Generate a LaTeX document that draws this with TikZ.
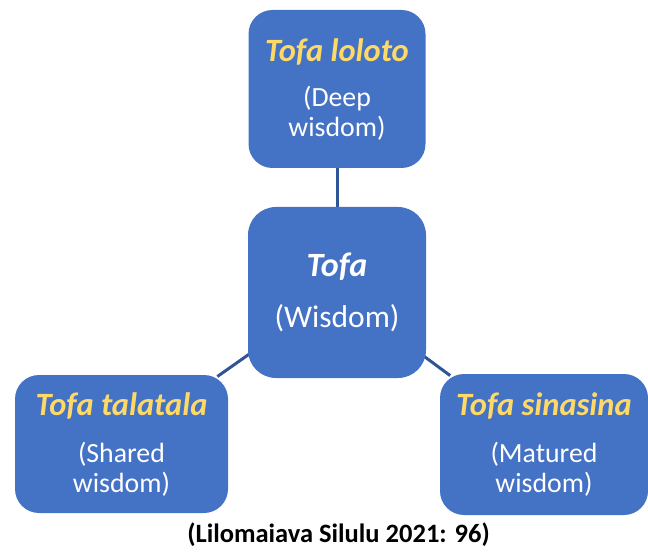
\documentclass[tikz,border=0pt]{standalone}
\usepackage{fontspec}
\setmainfont{Carlito}
\usetikzlibrary{backgrounds}
\definecolor{boxblue}{HTML}{4472C4}
\definecolor{linkblue}{HTML}{2F5597}
\definecolor{titlegold}{HTML}{FFD966}
\tikzset{
  x=1pt, y=-1pt,
  wbox/.style={draw=none, fill=boxblue, rounded corners=24pt, inner sep=0pt},
  link/.style={draw=linkblue, line width=3pt, shorten <=-4pt, shorten >=-3pt},
  ttl/.style={anchor=base, inner sep=0pt, text=titlegold, font=\fontsize{32.5}{38}\selectfont\bfseries\itshape},
  sub/.style={anchor=base, inner sep=0pt, text=white, font=\fontsize{27.8}{32}\selectfont},
}
\begin{document}
\begin{tikzpicture}
\useasboundingbox (0,0) rectangle (648,553);

% the four rounded boxes
\node[wbox, minimum width=177pt, minimum height=158pt] (top) at (337,89) {};
\node[wbox, rounded corners=28pt, minimum width=178pt, minimum height=171pt] (c) at (337,292.5) {};
\node[wbox, minimum width=213pt, minimum height=138pt] (l) at (121.5,444) {};
\node[wbox, minimum width=208pt, minimum height=141pt] (r) at (544,444.5) {};

% connectors behind the boxes
\begin{pgfonlayer}{background}
\draw[link] (top) -- (c);
\draw[link] (c) -- (l);
\draw[link] (c) -- (r);
\end{pgfonlayer}

% top box text
\node[ttl] (topt) at (337,62) {Tofa loloto};
\node[sub] (tops1) at (337,107) {(Deep};
\node[sub] (tops2) at (337,137) {wisdom)};

% centre box text
\node[ttl, text=white, font=\fontsize{34}{40}\selectfont\bfseries\itshape] (ct) at (337,277) {Tofa};
\node[sub, font=\fontsize{31.5}{36}\selectfont] (cs) at (337,328) {(Wisdom)};

% left box text
\node[ttl] (lt) at (121.5,415) {Tofa talatala};
\node[sub] (ls1) at (121.5,462) {(Shared};
\node[sub] (ls2) at (121.5,492) {wisdom)};

% right box text
\node[ttl] (rt) at (544,415) {Tofa sinasina};
\node[sub] (rs1) at (544,462) {(Matured};
\node[sub] (rs2) at (544,492) {wisdom)};

% source line
\node[anchor=base, inner sep=0pt, font=\fontsize{26.5}{30}\selectfont\bfseries] (src) at (338.5,542) {(Lilomaiava Silulu 2021: 96)};
\end{tikzpicture}
\end{document}
